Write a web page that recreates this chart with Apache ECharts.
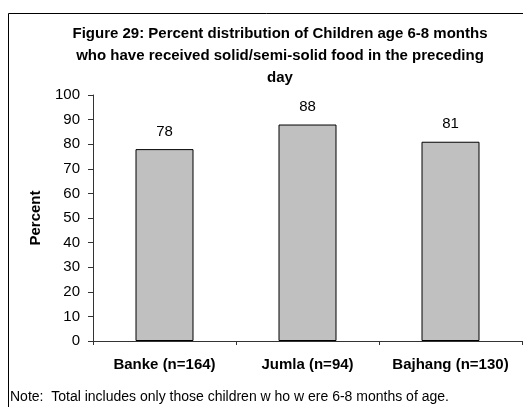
<!DOCTYPE html>
<html>
<head>
<meta charset="utf-8">
<script src="https://cdn.jsdelivr.net/npm/echarts@6/dist/echarts.min.js"></script>
<style>
  html, body { margin: 0; padding: 0; background: #fff; }
  #chart { width: 523px; height: 407px; }
</style>
</head>
<body>
<div id="chart"></div>
<script>
// Districts and share of children 6-8 months fed solid/semi-solid food
const categories = ['Banke (n=164)', 'Jumla (n=94)', 'Bajhang (n=130)'];
const percentValues = [78, 88, 81];
const yTicks = { min: 0, max: 100, interval: 10 };

const titleLines = [
  'Figure 29: Percent distribution of Children age 6-8 months',
  'who have received solid/semi-solid food in the preceding',
  'day'
];
const noteText = 'Note:  Total includes only those children w ho w ere 6-8 months of age.';

const FONT = '"Liberation Sans", Arial, sans-serif';

const chart = echarts.init(document.getElementById('chart'), null, { renderer: 'canvas' });

chart.setOption({
  animation: false,
  backgroundColor: '#ffffff',
  textStyle: { fontFamily: FONT },
  graphic: [
    {
      type: 'rect',
      shape: { x: 8.5, y: 13.5, width: 700, height: 600 },
      style: { fill: 'none', stroke: '#000', lineWidth: 1 },
      silent: true,
      z: -1
    }
  ],
  title: [
    {
      text: titleLines.join('\n'),
      left: 280,
      top: 23,
      textAlign: 'center',
      padding: 0,
      textStyle: {
        fontFamily: FONT,
        fontSize: 15,
        fontWeight: 'bold',
        color: '#000',
        lineHeight: 22
      }
    },
    {
      text: noteText,
      left: 10,
      top: 390,
      padding: 0,
      textStyle: {
        fontFamily: FONT,
        fontSize: 14,
        fontWeight: 'normal',
        color: '#000'
      }
    }
  ],
  grid: { left: 93, right: 1, top: 95, bottom: 66, containLabel: false },
  xAxis: {
    type: 'category',
    data: categories,
    axisLine: { lineStyle: { color: '#333', width: 1 } },
    axisTick: { show: true, alignWithLabel: false, length: 4, lineStyle: { color: '#333' } },
    axisLabel: {
      fontFamily: FONT,
      fontSize: 15,
      fontWeight: 'bold',
      color: '#000',
      margin: 16,
      interval: 0
    }
  },
  yAxis: {
    type: 'value',
    min: yTicks.min,
    max: yTicks.max,
    interval: yTicks.interval,
    name: 'Percent',
    nameLocation: 'middle',
    nameGap: 50,
    nameRotate: 90,
    nameTextStyle: {
      fontFamily: FONT,
      fontSize: 15,
      fontWeight: 'bold',
      color: '#000'
    },
    axisLine: { show: true, lineStyle: { color: '#333', width: 1 } },
    axisTick: { show: true, length: 5, lineStyle: { color: '#333' } },
    axisLabel: {
      fontFamily: FONT,
      fontSize: 15,
      color: '#000',
      margin: 13
    },
    splitLine: { show: false }
  },
  series: [
    {
      type: 'bar',
      data: percentValues,
      barWidth: 58,
      itemStyle: { color: '#c0c0c0', borderColor: '#000', borderWidth: 1 },
      label: {
        show: true,
        position: 'top',
        distance: 10,
        fontFamily: FONT,
        fontSize: 15,
        color: '#000'
      }
    }
  ]
});
</script>
</body>
</html>
